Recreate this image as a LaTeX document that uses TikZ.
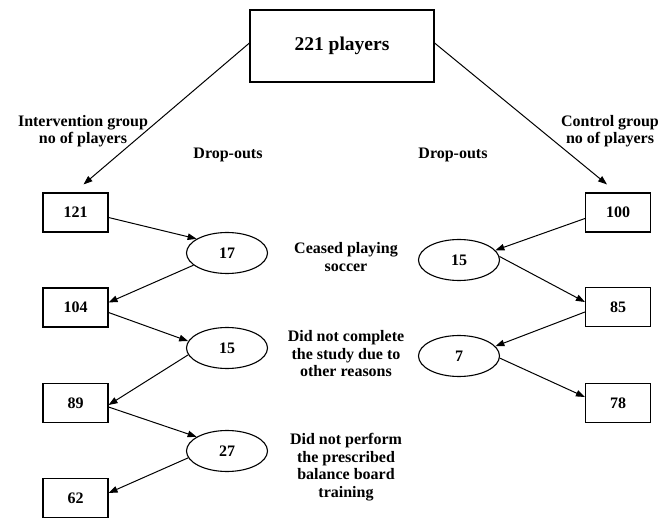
\documentclass[tikz,border=0pt]{standalone}
\usepackage{fontspec}
\setmainfont{Liberation Serif}
\usetikzlibrary{arrows.meta,shapes.geometric}
\begin{document}
\begin{tikzpicture}[x=1pt,y=-1pt,
  every node/.style={font=\fontsize{16}{17.5}\selectfont\bfseries},
  numbox/.style={draw,line width=1.1pt,minimum width=65pt,minimum height=39pt,inner sep=0pt},
  dropell/.style={draw,ellipse,line width=1.1pt,minimum width=81pt,minimum height=41pt,inner sep=0pt},
  lbl/.style={align=center,inner sep=0pt},
  arr/.style={draw,line width=1pt,-{Triangle[length=9pt,width=6.5pt]}}]
\useasboundingbox (0,0) rectangle (669,518);
% top
\node[draw,line width=1.1pt,minimum width=184pt,minimum height=72pt,inner sep=0pt,
  font=\fontsize{19.5}{22}\selectfont\bfseries] (top) at (342,46) {221 players};
% labels
\node[lbl] (lint) at (83,131) {Intervention group\\no of players};
\node[lbl] (lctl) at (610,131) {Control group\\no of players};
\node[lbl] (dl) at (228,155) {Drop-outs};
\node[lbl] (dr) at (453,155) {Drop-outs};
\node[lbl] (r1) at (346,257) {Ceased playing\\soccer};
\node[lbl] (r2) at (346,354) {Did not complete\\the study due to\\other reasons};
\node[lbl] (r3) at (346,467) {Did not perform\\the prescribed\\balance board\\training};
% intervention
\node[numbox] (b121) at (75.5,212.5) {121};
\node[dropell] (e17) at (227,253) {17};
\node[numbox] (b104) at (75.5,307.5) {104};
\node[dropell] (e15) at (227,348) {15};
\node[numbox] (b89) at (75.5,403) {89};
\node[dropell] (e27) at (227,451) {27};
\node[numbox] (b62) at (75.5,498) {62};
% control
\node[numbox] (b100) at (618,212.5) {100};
\node[dropell] (e15r) at (459,260) {15};
\node[numbox] (b85) at (618,307) {85};
\node[dropell] (e7) at (459,356) {7};
\node[numbox] (b78) at (618,403) {78};
% arrows
\draw[arr] ([yshift=3pt]top.west) -- ([xshift=8pt,yshift=8pt]b121.north);
\draw[arr] ([yshift=3pt]top.east) -- ([xshift=-11pt,yshift=8pt]b100.north);
\draw[arr] ([yshift=-5pt]b121.east) -- (e17.155);
\draw[arr] (e17.200) -- ([yshift=5pt]b104.east);
\draw[arr] ([yshift=-5pt]b104.east) -- (e15.170);
\draw[arr] (e15.190) -- ([yshift=-2pt]b89.east);
\draw[arr] ([yshift=-4pt]b89.east) -- (e27.155);
\draw[arr] (e27.190) -- ([yshift=5pt]b62.east);
\draw[arr] ([yshift=-6pt]b100.west) -- (e15r.15);
\draw[arr] (e15r.5) -- ([yshift=5pt]b85.west);
\draw[arr] ([yshift=-5pt]b85.west) -- (e7.15);
\draw[arr] (e7.-3) -- ([yshift=6pt]b78.west);
\end{tikzpicture}
\end{document}
